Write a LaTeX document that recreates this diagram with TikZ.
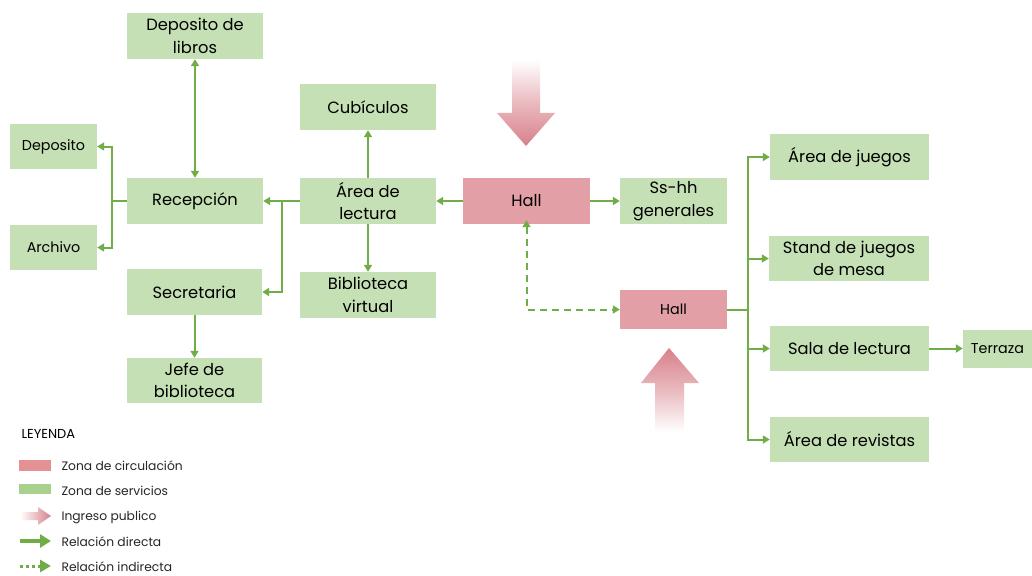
\documentclass[tikz,border=0pt]{standalone}
\usepackage{fontspec}
\setmainfont{Poppins}
\usetikzlibrary{arrows.meta}
\definecolor{gfill}{HTML}{C5E0B4}
\definecolor{pfill}{HTML}{E2A0A6}
\definecolor{gline}{HTML}{70AD47}
\definecolor{parrow}{HTML}{D8808A}
\definecolor{lgreen}{HTML}{A9D18E}
\begin{document}
\begin{tikzpicture}[x=1pt,y=-1pt,
  box/.style={inner sep=0pt, align=center, text=black},
  gbox/.style={box, fill=gfill},
  pbox/.style={box, fill=pfill},
  big/.style={font=\fontsize{16.3}{22.5}\selectfont},
  small/.style={font=\fontsize{14.3}{18}\selectfont},
  tip/.tip={Triangle[length=7pt,width=8pt]},
  conn/.style={draw=gline, line width=2pt, -tip},
  plain/.style={draw=gline, line width=2pt},
  dconn/.style={draw=gline, line width=2pt, dash pattern=on 7pt off 5pt},
  leg/.style={anchor=west, font=\fontsize{12.3}{14}\selectfont, text=black!85}
]
\useasboundingbox (0,0) rectangle (1032,575);
\fill[white] (0,0) rectangle (1032,575);

% nodes
\node[gbox,big,minimum width=136pt,minimum height=46pt] (deplib) at (195,36) {Deposito de\\libros};
\node[gbox,small,minimum width=87pt,minimum height=45pt] (depo) at (53.5,146.5) {Deposito};
\node[gbox,small,minimum width=87pt,minimum height=45pt] (arch) at (53.5,247.5) {Archivo};
\node[gbox,big,minimum width=136pt,minimum height=46pt] (recep) at (195,201) {Recepción};
\node[gbox,big,minimum width=135pt,minimum height=46pt] (secr) at (194.5,292) {Secretaria};
\node[gbox,big,minimum width=135pt,minimum height=45pt] (jefe) at (194.5,380.5) {Jefe de\\biblioteca};
\node[gbox,big,minimum width=136pt,minimum height=46pt] (cub) at (368,107) {Cubículos};
\node[gbox,big,minimum width=136pt,minimum height=46pt] (lect) at (368,201) {Área de\\lectura};
\node[gbox,big,minimum width=136pt,minimum height=46pt] (bvir) at (368,295) {Biblioteca\\virtual};
\node[pbox,big,minimum width=127pt,minimum height=46pt] (hall) at (526.5,201) {Hall};
\node[gbox,big,minimum width=107pt,minimum height=46pt] (sshh) at (673.5,201) {Ss-hh\\generales};
\node[pbox,small,minimum width=107pt,minimum height=39pt] (hallb) at (673.5,309.5) {Hall};
\node[gbox,big,minimum width=159pt,minimum height=46pt] (juegos) at (849.5,157) {Área de juegos};
\node[gbox,big,minimum width=160pt,minimum height=45pt] (stand) at (849,258.5) {Stand de juegos\\de mesa};
\node[gbox,big,minimum width=159pt,minimum height=45pt] (sala) at (849.5,348.5) {Sala de lectura};
\node[gbox,small,minimum width=69pt,minimum height=38pt] (terr) at (997.5,348.5) {Terraza};
\node[gbox,big,minimum width=159pt,minimum height=45pt] (revis) at (849.5,439.5) {Área de revistas};

% connectors
\draw[conn, tip-tip] (deplib) -- (recep);
\coordinate (rb) at (112,201);
\draw[plain] (recep.west) -- (rb);
\draw[conn] (rb) |- (depo.east);
\draw[conn] (rb) |- (arch.east);
\draw[conn] (lect.west) -- (recep.east);
\coordinate (lb) at (282,201);
\draw[conn] (lb) |- (secr.east);
\draw[conn] (secr) -- (jefe);
\draw[conn] (lect) -- (cub);
\draw[conn] (lect) -- (bvir);
\draw[conn] (hall) -- (lect);
\draw[conn] (hall) -- (sshh);
\coordinate (hs) at ([yshift=4pt]hall.south);
\draw[dconn, tip-tip] (hs) |- (hallb.west);
\coordinate (hb) at (748,309.5);
\draw[plain] (hallb.east) -- (hb);
\draw[conn] (hb) |- (juegos.west);
\draw[conn] (hb) |- (stand.west);
\draw[conn] (hb) |- (sala.west);
\draw[conn] (hb) |- (revis.west);
\draw[conn] (sala) -- (terr);

% entrance arrows
\shade[top color=white, bottom color=parrow, middle color=parrow!55]
  (512,60) -- (540,60) -- (540,113) -- (555,113) -- (526,146) -- (497,113) -- (512,113) -- cycle;
\shade[top color=parrow, bottom color=white, middle color=parrow!55]
  (669,348) -- (699,383) -- (684,383) -- (684,432) -- (655,432) -- (655,383) -- (641,383) -- cycle;

% legend
\node[anchor=west, font=\fontsize{13}{15}\selectfont, text=black] (leyenda) at (18,434) {LEYENDA};
\fill[pfill!90!red] (19,460) rectangle (51,471);
\node[leg] (l1) at (58,466) {Zona de circulación};
\fill[lgreen] (19,484) rectangle (51,494);
\node[leg] (l2) at (58,491) {Zona de servicios};
\shade[left color=white, right color=parrow]
  (20,512) -- (38,512) -- (38,507) -- (51,516) -- (38,525) -- (38,520) -- (20,520) -- cycle;
\node[leg] (l3) at (58,517) {Ingreso publico};
\coordinate (a1) at (20,541);
\coordinate (a2) at (51,541);
\draw[draw=gline, line width=3.5pt, -{Triangle[length=11pt,width=13pt]}] (a1) -- (a2);
\node[leg] (l4) at (58,542) {Relación directa};
\coordinate (b1) at (20,566);
\coordinate (b2) at (51,566);
\draw[draw=gline, line width=3pt, dash pattern=on 3pt off 3pt, -{Triangle[length=11pt,width=12pt]}] (b1) -- (b2);
\node[leg] (l5) at (58,567) {Relación indirecta};
\end{tikzpicture}
\end{document}
